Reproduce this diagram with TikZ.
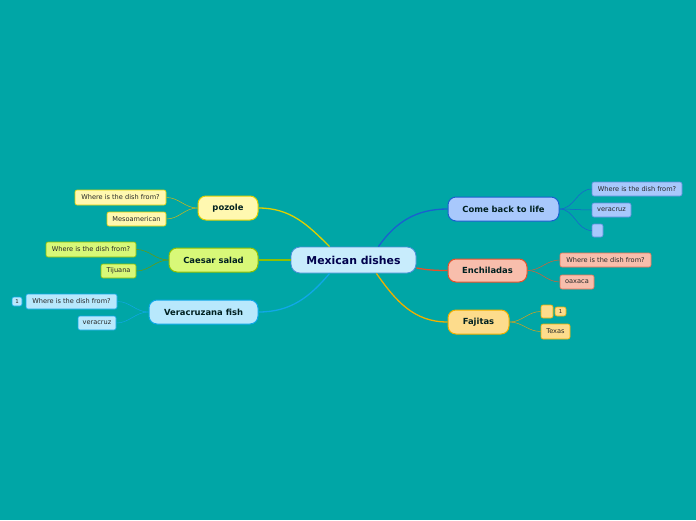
\documentclass[tikz,border=0pt]{standalone}
\usepackage{fontspec}
\setmainfont{DejaVu Sans}
\begin{document}
\begin{tikzpicture}[x=1pt,y=-1pt,
  mainbox/.style={draw, line width=1pt, rounded corners=8pt, inner sep=0pt, font=\fontsize{8.4}{10}\selectfont\bfseries, text=black!75!teal},
  subbox/.style={draw, line width=0.6pt, rounded corners=2pt, inner sep=0pt, minimum height=14pt, font=\fontsize{6.6}{8}\selectfont, text=black!85},
  link/.style={line width=1.3pt},
  sublink/.style={line width=0.5pt},
]
\definecolor{bg}{HTML}{00A6A6}
\definecolor{cenF}{HTML}{C8ECFC}\definecolor{cenD}{HTML}{4A8FD8}
\definecolor{cbF}{HTML}{A8C8FC}\definecolor{cbD}{HTML}{1A5FD0}
\definecolor{enF}{HTML}{F8BEAC}\definecolor{enD}{HTML}{E8502A}
\definecolor{faF}{HTML}{FDDC8C}\definecolor{faD}{HTML}{F0B000}
\definecolor{poF}{HTML}{FFF8B0}\definecolor{poD}{HTML}{E0D000}
\definecolor{caF}{HTML}{D8F878}\definecolor{caD}{HTML}{90C000}
\definecolor{veF}{HTML}{B8E8FC}\definecolor{veD}{HTML}{10A8E8}
\fill[bg] (0,0) rectangle (696,520);
\useasboundingbox (0,0) rectangle (696,520);

% central
\node[draw=cenD, fill=cenF, line width=0.8pt, rounded corners=9pt, minimum width=125pt, minimum height=26pt, font=\fontsize{10.9}{12}\selectfont\bfseries, text=blue!30!black] (c) at (353.5,260) {Mexican dishes};

% main branches
\node[mainbox, draw=cbD, fill=cbF, minimum width=111pt, minimum height=24pt] (cb) at (503.5,209) {Come back to life};
\node[mainbox, draw=enD, fill=enF, minimum width=79pt, minimum height=23pt] (en) at (487.5,270.5) {Enchiladas};
\node[mainbox, draw=faD, fill=faF, minimum width=61pt, minimum height=24pt] (fa) at (478.5,322) {Fajitas};
\node[mainbox, draw=poD, fill=poF, minimum width=60pt, minimum height=24pt] (po) at (228,208) {pozole};
\node[mainbox, draw=caD, fill=caF, minimum width=89pt, minimum height=24pt] (ca) at (213.5,260) {Caesar salad};
\node[mainbox, draw=veD, fill=veF, minimum width=109pt, minimum height=24pt] (ve) at (203.5,312) {Veracruzana fish};

% sub nodes
\node[subbox, draw=cbD!70, fill=cbF, minimum width=90pt] (cb1) at (637,189) {Where is the dish from?};
\node[subbox, draw=cbD!70, fill=cbF, minimum width=39pt] (cb2) at (611.5,210) {veracruz};
\node[subbox, draw=cbD!70, fill=cbF, minimum width=11pt, minimum height=13pt] (cb3) at (597.5,230.5) {};

\node[subbox, draw=enD!80, fill=enF, minimum width=91pt] (en1) at (605.5,260) {Where is the dish from?};
\node[subbox, draw=enD!80, fill=enF, minimum width=34pt] (en2) at (577,282) {oaxaca};

\node[subbox, draw=faD, fill=faF, minimum width=12pt, minimum height=13pt] (fa1) at (547,311.5) {};
\node[subbox, draw=faD, fill=faF, minimum width=11pt, minimum height=9pt, font=\fontsize{5.4}{6}\selectfont] (fa1n) at (560.5,311.5) {1};
\node[subbox, draw=faD, fill=faF, minimum width=29pt, minimum height=15pt] (fa2) at (555.5,331.5) {Texas};

\node[subbox, draw=poD, fill=poF, minimum width=91pt, minimum height=15pt] (po1) at (120.5,197.5) {Where is the dish from?};
\node[subbox, draw=poD, fill=poF, minimum width=59pt] (po2) at (136.5,219) {Mesoamerican};

\node[subbox, draw=caD, fill=caF, minimum width=90pt, minimum height=15pt] (ca1) at (91,249.5) {Where is the dish from?};
\node[subbox, draw=caD, fill=caF, minimum width=35pt] (ca2) at (118.5,271) {Tijuana};

\node[subbox, draw=veD, fill=veF, minimum width=10pt, minimum height=9pt, font=\fontsize{5.4}{6}\selectfont] (ve0) at (17,301.5) {1};
\node[subbox, draw=veD, fill=veF, minimum width=91pt, minimum height=15pt] (ve1) at (71.5,301.5) {Where is the dish from?};
\node[subbox, draw=veD, fill=veF, minimum width=38pt] (ve2) at (97,323) {veracruz};

% main links
\draw[link, draw=cbD] (c.north east) ++(-38,0) coordinate (cbs) to[out=55, in=180] (cb.west);
\draw[link, draw=enD] (c.east) ++(0,8) coordinate (ens) to[out=-10, in=180] (en.west);
\draw[link, draw=faD] (c.south east) ++(-40,0) coordinate (fas) to[out=-55, in=180] (fa.west);
\draw[link, draw=poD] (c.north west) ++(39,0) coordinate (pos) to[out=135, in=0] (po.east);
\draw[link, draw=caD] (c.west) -- (ca.east);
\draw[link, draw=veD] (c.south west) ++(39,0) coordinate (ves) to[out=-130, in=0] (ve.east);

% sub links
\foreach \s in {cb1,cb2,cb3} \draw[sublink, draw=cbD] (cb.east) to[out=0,in=180] (\s.west);
\foreach \s in {en1,en2} \draw[sublink, draw=enD!70!brown] (en.east) to[out=0,in=180] (\s.west);
\foreach \s in {fa1,fa2} \draw[sublink, draw=faD!70!brown] (fa.east) to[out=0,in=180] (\s.west);
\foreach \s in {po1,po2} \draw[sublink, draw=poD!70!brown] (po.west) to[out=180,in=0] (\s.east);
\foreach \s in {ca1,ca2} \draw[sublink, draw=caD!80!black] (ca.west) to[out=180,in=0] (\s.east);
\foreach \s in {ve1,ve2} \draw[sublink, draw=veD] (ve.west) to[out=180,in=0] (\s.east);
\end{tikzpicture}
\end{document}
